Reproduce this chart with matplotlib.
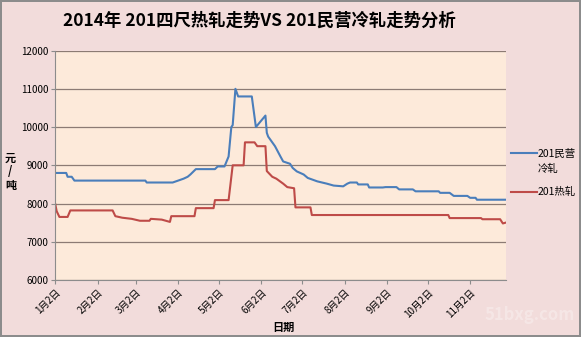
import matplotlib
matplotlib.use("Agg")
import matplotlib.pyplot as plt
from matplotlib.lines import Line2D
import pandas as pd

plt.rcParams['font.family'] = ['Noto Sans CJK SC', 'DejaVu Sans']

# 201民营冷轧 (corner points)
cold_dates = ["01-02", "01-10", "01-11", "01-14", "01-16", "03-09", "03-10", "03-29",
              "04-02", "04-06", "04-09", "04-11", "04-15", "04-29", "05-01", "05-06",
              "05-09", "05-11", "05-12", "05-14", "05-16", "05-26", "05-29", "06-05",
              "06-06", "06-07", "06-10", "06-12", "06-16", "06-18", "06-23", "06-25",
              "06-28", "07-03", "07-06", "07-13", "07-20", "07-25", "08-01", "08-04",
              "08-06", "08-11", "08-12", "08-19", "08-20", "08-30", "09-01", "09-09",
              "09-11", "09-21", "09-23", "10-10", "10-11", "10-18", "10-21", "10-31",
              "11-02", "11-06", "11-07", "11-28"]
cold_vals = [8800, 8800, 8700, 8700, 8600, 8600, 8550, 8550,
             8600, 8650, 8700, 8760, 8900, 8900, 8970, 8970,
             9230, 10000, 10050, 11000, 10800, 10800, 10000, 10300,
             9850, 9750, 9600, 9500, 9230, 9100, 9040, 8930,
             8840, 8760, 8670, 8580, 8520, 8470, 8450, 8520,
             8550, 8550, 8500, 8500, 8420, 8420, 8430, 8430,
             8370, 8370, 8320, 8320, 8280, 8280, 8200, 8200,
             8150, 8150, 8100, 8100]

# 201热轧
hot_dates = ["01-02", "01-03", "01-05", "01-11", "01-13", "02-13", "02-15", "02-20",
             "02-27", "03-05", "03-12", "03-13", "03-21", "03-27", "03-28", "04-14",
             "04-15", "04-28", "04-29", "05-09", "05-12", "05-20", "05-21", "05-28",
             "05-30", "06-05", "06-06", "06-10", "06-13", "06-18", "06-21", "06-26",
             "06-27", "07-08", "07-09", "10-17", "10-18", "11-10", "11-11", "11-24",
             "11-26", "11-28"]
hot_vals = [7980, 7800, 7650, 7650, 7820, 7820, 7670, 7630,
            7600, 7550, 7550, 7600, 7580, 7520, 7670, 7670,
            7880, 7880, 8090, 8090, 9000, 9000, 9600, 9600,
            9500, 9500, 8850, 8700, 8650, 8520, 8430, 8400,
            7900, 7900, 7700, 7700, 7620, 7620, 7590, 7590,
            7480, 7500]

tick_months = [1, 2, 3, 4, 5, 6, 7, 8, 9, 10, 11]
yticks = [6000, 7000, 8000, 9000, 10000, 11000, 12000]

BLUE = '#4A7EBB'
RED = '#BE4B48'


def to_dt(lst):
    return pd.to_datetime(["2014-" + s for s in lst])


fig = plt.figure(figsize=(5.81, 3.37), dpi=100)
fig.patch.set_facecolor('#F2DCDB')
fig.patch.set_edgecolor('#8C8C8C')
fig.patch.set_linewidth(1.5)
ax = fig.add_axes([0.0952, 0.169, 0.775, 0.681])
ax.set_facecolor('#FDEADA')

cd = to_dt(cold_dates)
hd = to_dt(hot_dates)
ax.plot(cd, cold_vals, color=BLUE, lw=1.5)
ax.plot(hd, hot_vals, color=RED, lw=1.5)

ax.set_xlim(cd[0], cd[-1])
ax.set_ylim(6000, 12000)
ax.set_yticks(yticks)
ax.set_yticklabels([str(v) for v in yticks], fontsize=7)
ax.yaxis.grid(True, color='#8C7B74', lw=0.9)
ax.set_axisbelow(True)

ticks = pd.to_datetime(["2014-%02d-02" % m for m in tick_months])
ax.set_xticks(ticks)
ax.set_xticklabels(["%d月2日" % m for m in tick_months], fontsize=7,
                   rotation=45, ha='right', rotation_mode='anchor')

for s in ['top', 'right']:
    ax.spines[s].set_visible(False)
for s in ['left', 'bottom']:
    ax.spines[s].set_color('#8C8C8C')
ax.tick_params(axis='both', length=3, color='#8C8C8C', pad=2)

fig.text(0.447, 0.94, '2014年 201四尺热轧走势VS 201民营冷轧走势分析',
         ha='center', va='center', fontsize=12.5, fontweight='bold')
fig.text(0.018, 0.49, '元\n/\n吨', ha='center', va='center', fontsize=8,
         fontweight='bold', linespacing=1.1)
fig.text(0.487, 0.027, '日期', ha='center', va='center', fontsize=8, fontweight='bold')
fig.text(0.99, 0.065, '51bxg.com', ha='right', va='center', fontsize=12,
         fontweight='bold', color='white', alpha=0.3)

# legend, drawn by hand to match the layout of the original
W, H = 581.0, 337.0
for color, y in [(BLUE, 153.3), (RED, 191.5)]:
    fig.add_artist(Line2D([511 / W, 537 / W], [1 - y / H, 1 - y / H],
                          color=color, lw=1.5))
fig.text(538 / W, 1 - 153.3 / H, '201民营', ha='left', va='center', fontsize=7.5)
fig.text(538 / W, 1 - 169 / H, '冷轧', ha='left', va='center', fontsize=7.5)
fig.text(538 / W, 1 - 191.5 / H, '201热轧', ha='left', va='center', fontsize=7.5)

fig.savefig('out.png', dpi=100, facecolor=fig.get_facecolor(),
            edgecolor=fig.get_edgecolor())
